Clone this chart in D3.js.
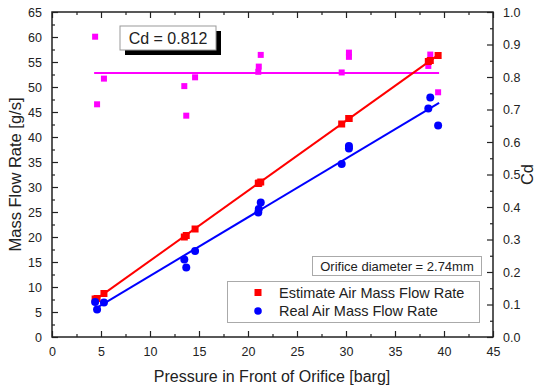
<!DOCTYPE html>
<html>
<head>
<meta charset="utf-8">
<script src="https://cdn.jsdelivr.net/npm/d3@7"></script>
<style>
  body { margin: 0; background: #fff; }
  text { font-family: Arial, "Liberation Sans", sans-serif; fill: #222; }
</style>
</head>
<body>
<div id="canvas"></div>
<script>
// pressure readings [barg]
const pressure  = [4.4, 4.6, 5.3, 13.5, 13.7, 14.6, 21.05, 21.1, 21.3, 29.56, 30.3, 30.3, 38.4, 38.6, 39.4];
// estimate air mass flow rate [g/s]
const estimate  = [7.6, 7.7, 8.7, 20.0, 20.3, 21.6, 30.7, 30.8, 31.0, 42.6, 43.7, 43.7, 55.1, 55.3, 56.3];
// real air mass flow rate [g/s]
const real      = [7.0, 5.5, 6.9, 15.5, 13.9, 17.2, 24.9, 25.6, 26.9, 34.6, 38.2, 37.7, 45.7, 47.9, 42.3];
// discharge coefficient
const cd        = [0.924, 0.716, 0.795, 0.772, 0.681, 0.799, 0.816, 0.832, 0.868, 0.814, 0.875, 0.862, 0.834, 0.869, 0.753];
const cdMean = 0.812;
const xTicks = d3.range(0, 46, 5);
const yTicks = d3.range(0, 66, 5);
const cdTicks = d3.range(0, 1.01, 0.1);

const width = 539, height = 388;
const m = { left: 52, right: 46, top: 12, bottom: 51 };

const svg = d3.select('#canvas')
  .append('svg')
    .attr('width', width)
    .attr('height', height);

const x = d3.scaleLinear().domain([0, 45]).range([m.left, width - m.right]);
const y = d3.scaleLinear().domain([0, 65]).range([height - m.bottom, m.top]);
const yc = d3.scaleLinear().domain([0, 1]).range([height - m.bottom, m.top]);

/* AXES */
function styleAxis(g) {
  g.select('.domain').remove();
  g.selectAll('line').attr('stroke', '#222').attr('stroke-width', 1.2);
  g.selectAll('text').attr('font-size', 12.5).style('fill', '#222');
}
const pB = height - m.bottom, pT = m.top, pL = m.left, pR = width - m.right;

// minor ticks
svg.append('g').attr('transform', `translate(0,${pB})`)
  .call(d3.axisBottom(x).tickValues(d3.range(2.5, 45, 5)).tickSize(-3).tickFormat(''))
  .call(styleAxis);
svg.append('g').attr('transform', `translate(0,${pT})`)
  .call(d3.axisTop(x).tickValues(d3.range(2.5, 45, 5)).tickSize(-3).tickFormat(''))
  .call(styleAxis);
svg.append('g').attr('transform', `translate(${pL},0)`)
  .call(d3.axisLeft(y).tickValues(d3.range(2.5, 65, 5)).tickSize(-3).tickFormat(''))
  .call(styleAxis);
svg.append('g').attr('transform', `translate(${pR},0)`)
  .call(d3.axisRight(yc).tickValues(d3.range(0.05, 1, 0.1)).tickSize(-3).tickFormat(''))
  .call(styleAxis);

// major ticks
svg.append('g').attr('transform', `translate(0,${pB})`)
  .call(d3.axisBottom(x).tickValues(xTicks).tickSize(-6).tickPadding(10).tickFormat(d3.format('d')))
  .call(styleAxis);
svg.append('g').attr('transform', `translate(0,${pT})`)
  .call(d3.axisTop(x).tickValues(xTicks).tickSize(-6).tickFormat(''))
  .call(styleAxis);
svg.append('g').attr('transform', `translate(${pL},0)`)
  .call(d3.axisLeft(y).tickValues(yTicks).tickSize(-6).tickPadding(10).tickFormat(d3.format('d')))
  .call(styleAxis);
svg.append('g').attr('transform', `translate(${pR},0)`)
  .call(d3.axisRight(yc).tickValues(cdTicks).tickSize(-6).tickPadding(10).tickFormat(d3.format('.1f')))
  .call(styleAxis);

svg.append('rect')
  .attr('x', pL).attr('y', pT)
  .attr('width', pR - pL).attr('height', pB - pT)
  .attr('fill', 'none').attr('stroke', '#222').attr('stroke-width', 1.5);

/* FIT LINES */
function fit(xs, ys) {
  const mx = d3.mean(xs), my = d3.mean(ys);
  let num = 0, den = 0;
  xs.forEach((v, i) => { num += (v - mx) * (ys[i] - my); den += (v - mx) * (v - mx); });
  const b = num / den;
  return { a: my - b * mx, b };
}
const x0 = d3.min(pressure) - 0.1, x1 = d3.max(pressure) + 0.1;
const fr = fit(pressure, estimate), fb = fit(pressure, real);

svg.append('line')
  .attr('x1', x(x0)).attr('x2', x(x1))
  .attr('y1', yc(cdMean)).attr('y2', yc(cdMean))
  .attr('stroke', '#ff00ff').attr('stroke-width', 2);

/* POINTS */
const sq = 7;
svg.append('g').selectAll('rect')
  .data(pressure)
  .join('rect')
    .attr('x', (d, i) => x(d) - 3)
    .attr('y', (d, i) => yc(cd[i]) - 3)
    .attr('width', 6).attr('height', 6)
    .attr('fill', '#ff00ff');

svg.append('line')
  .attr('x1', x(x0)).attr('x2', x(x1))
  .attr('y1', y(fr.a + fr.b * x0)).attr('y2', y(fr.a + fr.b * x1))
  .attr('stroke', '#ff0000').attr('stroke-width', 2);
svg.append('line')
  .attr('x1', x(x0)).attr('x2', x(x1))
  .attr('y1', y(fb.a + fb.b * x0)).attr('y2', y(fb.a + fb.b * x1))
  .attr('stroke', '#0000ff').attr('stroke-width', 2);

svg.append('g').selectAll('rect')
  .data(pressure)
  .join('rect')
    .attr('x', d => x(d) - sq / 2)
    .attr('y', (d, i) => y(estimate[i]) - sq / 2)
    .attr('width', sq).attr('height', sq)
    .attr('fill', '#ff0000');

svg.append('g').selectAll('circle')
  .data(pressure)
  .join('circle')
    .attr('cx', d => x(d))
    .attr('cy', (d, i) => y(real[i]))
    .attr('r', 4)
    .attr('fill', '#0000ff');

/* ANNOTATIONS */
svg.append('rect').attr('x', 125).attr('y', 31).attr('width', 96).attr('height', 24).attr('fill', '#000');
svg.append('rect').attr('x', 120).attr('y', 26).attr('width', 96).attr('height', 24)
  .attr('fill', '#fff').attr('stroke', '#999').attr('stroke-width', 1);
svg.append('text').attr('x', 168).attr('y', 44).attr('text-anchor', 'middle')
  .attr('font-size', 16).text('Cd = 0.812');

svg.append('rect').attr('x', 312.5).attr('y', 256.5).attr('width', 169).attr('height', 19)
  .attr('fill', '#fff').attr('stroke', '#aaa').attr('stroke-width', 1);
svg.append('text').attr('x', 397).attr('y', 270.5).attr('text-anchor', 'middle')
  .attr('font-size', 13).text('Orifice diameter = 2.74mm');

const legend = svg.append('g');
legend.append('rect').attr('x', 227.5).attr('y', 281.5).attr('width', 252).attr('height', 41)
  .attr('fill', '#fff').attr('stroke', '#aaa').attr('stroke-width', 1);
legend.append('rect').attr('x', 254.5).attr('y', 289).attr('width', 7).attr('height', 7).attr('fill', '#ff0000');
legend.append('circle').attr('cx', 258).attr('cy', 311).attr('r', 3.8).attr('fill', '#0000ff');
legend.append('text').attr('x', 279).attr('y', 297.5).attr('font-size', 14.5).text('Estimate Air Mass Flow Rate');
legend.append('text').attr('x', 279).attr('y', 315.5).attr('font-size', 14.5).text('Real Air Mass Flow Rate');

/* AXIS TITLES */
svg.append('text').attr('x', 272).attr('y', 382).attr('text-anchor', 'middle')
  .attr('font-size', 16).text('Pressure in Front of Orifice [barg]');
svg.append('text').attr('transform', `translate(21,${(pT + pB) / 2}) rotate(-90)`)
  .attr('text-anchor', 'middle').attr('font-size', 16.5).text('Mass Flow Rate [g/s]');
svg.append('text').attr('transform', `translate(533,${(pT + pB) / 2}) rotate(-90)`)
  .attr('text-anchor', 'middle').attr('font-size', 16.5).text('Cd');
</script>
</body>
</html>
